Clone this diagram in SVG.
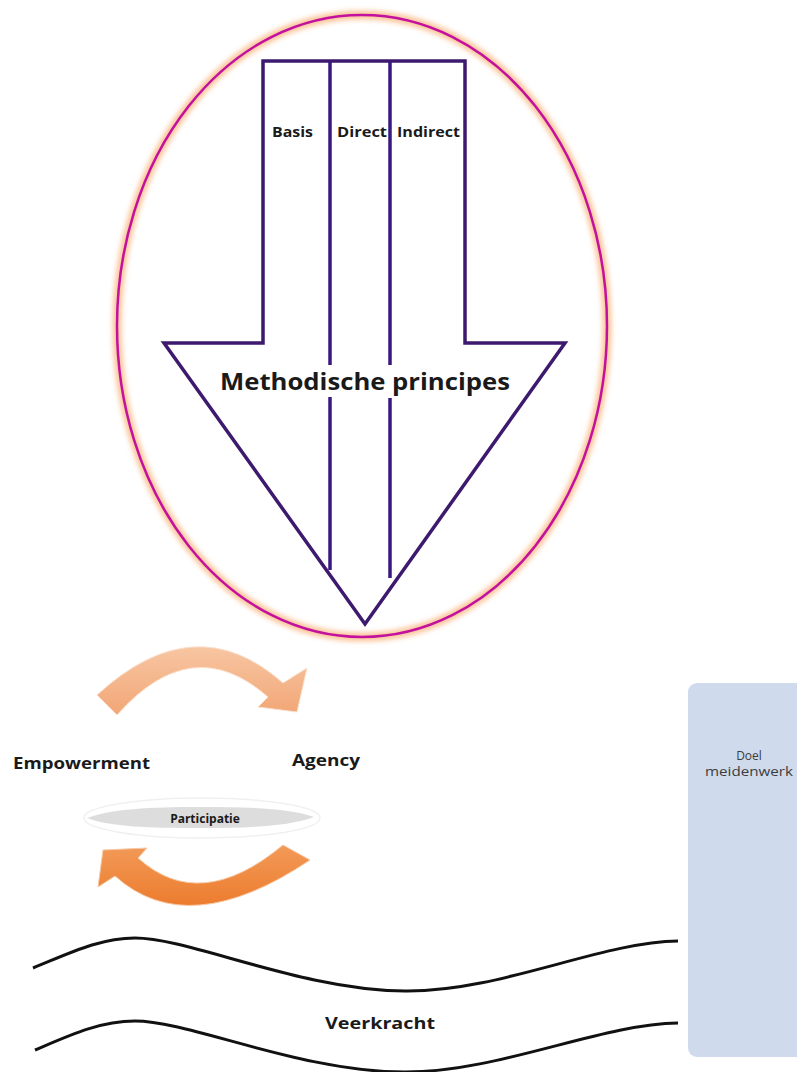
<svg xmlns="http://www.w3.org/2000/svg" width="797" height="1072" viewBox="0 0 797 1072">
<defs>
<style>
.arrowline{fill:none;stroke:#3d1a6e;stroke-width:3.5;stroke-linejoin:miter}
.inner{fill:none;stroke:#3a1880;stroke-width:3.5}
.lbl{font-family:"Open Sans","Liberation Sans",sans-serif;font-weight:bold;fill:#1a1a1a}
.wave{fill:none;stroke:#111;stroke-width:3}
.doel{font-family:"Open Sans","Liberation Sans",sans-serif;font-size:12px;fill:#3c3c3c}
</style>
<filter id="glow" x="-10%" y="-10%" width="120%" height="120%"><feGaussianBlur stdDeviation="2.5"/></filter>
<linearGradient id="gTop" x1="0" y1="0" x2="0" y2="1">
<stop offset="0" stop-color="#f7c6a2"/><stop offset="1" stop-color="#f2a676"/>
</linearGradient>
<linearGradient id="gBot" x1="0" y1="0" x2="0" y2="1">
<stop offset="0" stop-color="#f29a58"/><stop offset="1" stop-color="#ec7c2e"/>
</linearGradient>
</defs>
<rect width="797" height="1072" fill="#ffffff"/>

<g id="ellipse">
<ellipse cx="362" cy="326" rx="245" ry="311" fill="none" stroke="#fbc59a" stroke-width="9" filter="url(#glow)"/>
<ellipse cx="362" cy="326" rx="245" ry="311" fill="none" stroke="#c4109f" stroke-width="2.5"/>
</g>

<g id="methodische-principes">
<path class="arrowline" d="M263,61 L465,61 L465,343 L565,343 L365,624 L164,343 L263,343 Z"/>
<line class="inner" x1="330" y1="61" x2="330" y2="365"/>
<line class="inner" x1="330" y1="397" x2="330" y2="570"/>
<line class="inner" x1="390" y1="61" x2="390" y2="365"/>
<line class="inner" x1="390" y1="398" x2="390" y2="578"/>
<text class="lbl" x="365" y="390" font-size="23" text-anchor="middle" textLength="290" lengthAdjust="spacingAndGlyphs">Methodische principes</text>
</g>
<g id="basis"><text class="lbl" x="272" y="137" font-size="14" textLength="41" lengthAdjust="spacingAndGlyphs">Basis</text></g>
<g id="direct"><text class="lbl" x="337" y="137" font-size="14" textLength="50" lengthAdjust="spacingAndGlyphs">Direct</text></g>
<g id="indirect"><text class="lbl" x="397" y="137" font-size="14" textLength="63" lengthAdjust="spacingAndGlyphs">Indirect</text></g>

<g id="connectors">
<path d="M97,695 Q195,605 283,683 L307,668 L297,712 L258,707 L268,697 Q192,630 117,715 Z" fill="url(#gTop)" stroke="#fbe0cc" stroke-width="1"/>
<path d="M310,860 Q188,942 115,876 L98,887 L103,850 L147,848 L138,858 Q200,914 283,845 Z" fill="url(#gBot)" stroke="#f7c9a6" stroke-width="1"/>
</g>

<g id="empowerment"><text class="lbl" x="13" y="769" font-size="16" textLength="137" lengthAdjust="spacingAndGlyphs">Empowerment</text></g>
<g id="agency"><text class="lbl" x="292" y="766" font-size="16" textLength="68" lengthAdjust="spacingAndGlyphs">Agency</text></g>

<g id="participatie">
<ellipse cx="202" cy="818" rx="118" ry="20" fill="none" stroke="#f0f0f0" stroke-width="1.5"/>
<path d="M87,818 C110,809 150,807 200,807 C250,807 290,808 314,817 C290,826 250,828 200,828 C150,828 110,827 87,818 Z" fill="#dddddd"/>
<text class="lbl" x="205" y="823" font-size="12" text-anchor="middle">Participatie</text>
</g>

<g id="veerkracht">
<path class="wave" d="M33,968 C70,953 100,938 135,938 C190,938 300,990 405,991 C500,992 600,942 678,941"/>
<path class="wave" d="M35,1050 C70,1035 100,1021 135,1021 C190,1021 300,1072 405,1072 C500,1072 600,1024 678,1023"/>
<text class="lbl" x="380" y="1029" font-size="16" text-anchor="middle" textLength="110" lengthAdjust="spacingAndGlyphs">Veerkracht</text>
</g>

<g id="doel-meidenwerk">
<rect x="688" y="683" width="120" height="374" rx="9" fill="#cfdaec"/>
<text class="doel" x="749" y="760" text-anchor="middle">Doel</text>
<text class="doel" x="749" y="776" text-anchor="middle" textLength="88" lengthAdjust="spacingAndGlyphs">meidenwerk</text>
</g>
</svg>
